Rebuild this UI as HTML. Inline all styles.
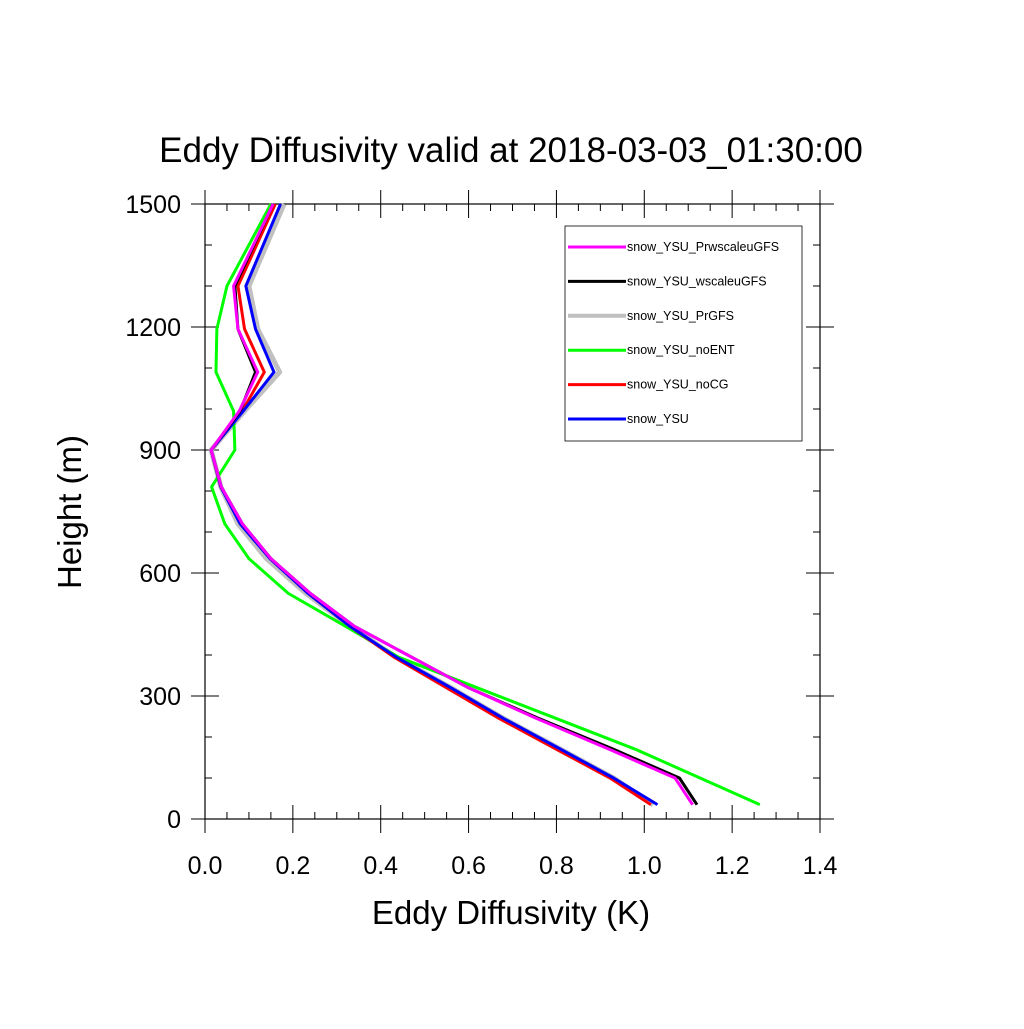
<!DOCTYPE html>
<html><head><meta charset="utf-8"><style>
body{margin:0;background:#fff}
svg text{font-family:"Liberation Sans",sans-serif;fill:#000}
</style></head><body>
<svg width="1024" height="1024" viewBox="0 0 1024 1024">
<text x="511" y="162" font-size="35" text-anchor="middle">Eddy Diffusivity valid at 2018-03-03_01:30:00</text>
<g id="axes"></g>
<g id="series"></g>
<g id="legend"></g>
<text x="511" y="924" font-size="33" text-anchor="middle">Eddy Diffusivity (K)</text>
<text transform="translate(81,512) rotate(-90)" font-size="33" text-anchor="middle">Height (m)</text>
</svg>
<script>
const heights=[35,100,170,245,320,395,470,550,635,720,810,900,995,1090,1195,1300,1500];
const ysu=[1.03,0.93,0.81,0.68,0.56,0.435,0.33,0.235,0.148,0.08,0.036,0.014,0.087,0.157,0.115,0.093,0.172];
const noCG=[1.015,0.922,0.80,0.67,0.55,0.43,0.33,0.235,0.15,0.083,0.036,0.014,0.085,0.135,0.09,0.075,0.16];
const noENT=[1.263,1.127,0.98,0.8,0.62,0.44,0.32,0.19,0.1,0.045,0.015,0.068,0.065,0.025,0.027,0.05,0.15];
const prGFS=[1.02,0.93,0.81,0.68,0.56,0.435,0.33,0.23,0.14,0.075,0.036,0.014,0.09,0.17,0.12,0.1,0.18];
const wscale=[1.12,1.08,0.93,0.76,0.6,0.47,0.34,0.24,0.15,0.085,0.037,0.014,0.08,0.115,0.075,0.068,0.155];
const prwscale=[1.11,1.07,0.92,0.755,0.6,0.47,0.34,0.24,0.15,0.085,0.037,0.014,0.078,0.12,0.075,0.065,0.155];
const xTicks=[0,0.2,0.4,0.6,0.8,1.0,1.2,1.4];
const xTickLabels=["0.0","0.2","0.4","0.6","0.8","1.0","1.2","1.4"];
const yTicks=[0,300,600,900,1200,1500];
const seriesNames=["snow_YSU_PrwscaleuGFS","snow_YSU_wscaleuGFS","snow_YSU_PrGFS","snow_YSU_noENT","snow_YSU_noCG","snow_YSU"];
const NS="http://www.w3.org/2000/svg";
const L=205,R=820,T=204,B=819;
const xs=v=>L+v/1.4*(R-L);
const ys=h=>B-h/1500*(B-T);
function mk(tag,attrs,parent){const e=document.createElementNS(NS,tag);for(const k in attrs)e.setAttribute(k,attrs[k]);parent.appendChild(e);return e;}
const ax=document.getElementById('axes');
const frame=mk('rect',{x:L,y:T,width:R-L,height:B-T,fill:'none',stroke:'#000','stroke-width':1.2},ax);


for(let i=0;i<=28;i++){const v=i*0.05,x=xs(v),maj=i%4===0,len=maj?14:7;
 mk('line',{x1:x,y1:B,x2:x,y2:B-len,stroke:'#000'},ax);mk('line',{x1:x,y1:T,x2:x,y2:T+len,stroke:'#000'},ax);
 if(maj){mk('line',{x1:x,y1:B,x2:x,y2:B+14,stroke:'#000'},ax);mk('line',{x1:x,y1:T,x2:x,y2:T-14,stroke:'#000'},ax);}}
xTicks.forEach((v,i)=>{const t=mk('text',{x:xs(v),y:874,'font-size':25,'text-anchor':'middle'},ax);t.textContent=xTickLabels[i];
 
 });
for(let i=0;i<=15;i++){const h=i*100,y=ys(h),maj=i%3===0,len=maj?14:7;
 mk('line',{x1:L,y1:y,x2:L+len,y2:y,stroke:'#000'},ax);mk('line',{x1:R,y1:y,x2:R-len,y2:y,stroke:'#000'},ax);
 if(maj){mk('line',{x1:L,y1:y,x2:L-14,y2:y,stroke:'#000'},ax);mk('line',{x1:R,y1:y,x2:R+14,y2:y,stroke:'#000'},ax);}}
yTicks.forEach(h=>{const t=mk('text',{x:181,y:ys(h)+9,'font-size':25,'text-anchor':'end'},ax);t.textContent=String(h);
 
 });
const sg=document.getElementById('series');
const series=[[prGFS,'#c0c0c0',5,'series-prgfs'],[noENT,'#00ff00',3,'series-noent'],[noCG,'#ff0000',3,'series-nocg'],[ysu,'#0000ff',3,'series-ysu'],[wscale,'#000000',3,'series-wscaleugfs'],[prwscale,'#ff00ff',3,'series-prwscaleugfs']];
series.forEach(s=>{const p=mk('polyline',{points:s[0].map((v,i)=>xs(v)+','+ys(heights[i])).join(' '),fill:'none',stroke:s[1],'stroke-width':s[2],'stroke-linejoin':'round'},sg);
 
 });
const lg=document.getElementById('legend');
const box=mk('rect',{x:565,y:226,width:237,height:215,fill:'#fff',stroke:'#000','stroke-width':0.8},lg);


const lcol=['#ff00ff','#000000','#c0c0c0','#00ff00','#ff0000','#0000ff'];
seriesNames.forEach((n,i)=>{const y=247+i*34.4;
 mk('line',{x1:568,y1:y,x2:626,y2:y,stroke:lcol[i],'stroke-width':i==2?4:3},lg);
 const t=mk('text',{x:627,y:y+4,'font-size':12.5},lg);t.textContent=n;
 
 });
</script>
</body></html>
